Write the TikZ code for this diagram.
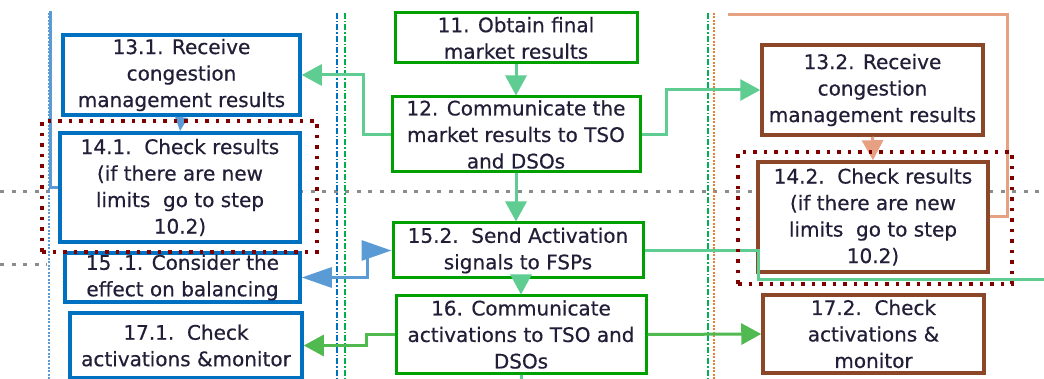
\documentclass[tikz,border=0pt]{standalone}
\usepackage{fontspec}
\setmainfont{DejaVu Sans}
\newfontfamily\boxfont{DejaVu Sans}[FakeBold=0.5]
\usetikzlibrary{arrows.meta}
\definecolor{boxblue}{RGB}{0,112,192}
\definecolor{boxgreen}{RGB}{0,160,0}
\definecolor{boxbrown}{RGB}{140,70,40}
\definecolor{frred}{RGB}{128,0,0}
\definecolor{lgreen}{RGB}{95,205,145}
\definecolor{dgreen}{RGB}{80,185,80}
\definecolor{lblue}{RGB}{91,155,213}
\definecolor{salmon}{RGB}{230,160,130}
\definecolor{txt}{RGB}{35,30,55}
\definecolor{lanegreen}{RGB}{0,176,80}
\definecolor{laneorange}{RGB}{237,125,49}
\definecolor{gdot}{RGB}{140,140,140}
\begin{document}
\begin{tikzpicture}[x=1pt,y=-1pt,
  box/.style={draw, fill=white, line width=3.5pt, inner sep=0pt, align=center, text=txt,
    font={\boxfont\fontsize{20}{26.5}\selectfont}},
  bbox/.style={box, draw=boxblue},
  gbox/.style={box, draw=boxgreen, line width=3pt},
  rbox/.style={box, draw=boxbrown},
  frame/.style={draw=frred, line width=3.5pt, dash pattern=on 3.5pt off 7pt, inner sep=0pt},
  conn/.style={line width=3pt},
  lg/.style={conn, draw=lgreen},
  dg/.style={conn, draw=dgreen},
  lb/.style={conn, draw=lblue},
  sal/.style={conn, draw=salmon},
  tip/.style={-{Triangle[length=20pt,width=21pt]}},
  bigtip/.style={{Triangle[length=30pt,width=20pt]}-{Triangle[length=30pt,width=20pt]}},
  lane/.style={line width=1.5pt},
  gline/.style={draw=gdot, line width=3pt, dash pattern=on 4pt off 7.5pt}
]
\useasboundingbox (0,0) rectangle (1044,379);
\fill[white] (0,0) rectangle (1044,379);

% grey dotted horizontal lines
\draw[gline] (0,192) -- (1044,192);
\draw[gline] (0,265) -- (47,265);

% lane lines
\draw[lane, draw=lblue, line width=2pt, dash pattern=on 2pt off 1.5pt] (49,13) -- (49,379);
\draw[lane, draw=boxblue, dash pattern=on 6pt off 2pt on 1.5pt off 2pt] (337,13) -- (337,379);
\draw[lane, draw=lanegreen, dash pattern=on 6pt off 2pt on 1.5pt off 2pt] (345,13) -- (345,379);
\draw[lane, draw=lanegreen, dash pattern=on 6pt off 2pt on 1.5pt off 2pt] (708,13) -- (708,379);
\draw[lane, draw=laneorange, dash pattern=on 2pt off 1.5pt] (714,13) -- (714,379);

% boxes
\node[bbox, minimum width=237pt, minimum height=80pt] (n131) at (181.5,75) {13.1. Receive\\congestion\\management results};
\node[bbox, minimum width=240pt, minimum height=109pt] (n141) at (180,187.5) {14.1.\ \ Check results\\(if there are new\\limits\ \ go to step\\10.2)};
\node[bbox, minimum width=235pt, minimum height=49pt] (n151) at (182.5,277.5) {15 .1. Consider the\\effect on balancing};
\node[bbox, minimum width=232pt, minimum height=65pt] (n171) at (186,345.5) {17.1.\ \ Check\\activations \&monitor};

\node[gbox, minimum width=242pt, minimum height=50pt] (n11) at (516,38) {11. Obtain final\\market results};
\node[gbox, minimum width=248pt, minimum height=75pt] (n12) at (516,134.5) {12. Communicate the\\market results to TSO\\and DSOs};
\node[gbox, minimum width=250pt, minimum height=55pt] (n152) at (518,250.5) {15.2.\ \ Send Activation\\signals to FSPs};
\node[gbox, minimum width=250pt, minimum height=77pt] (n16) at (521,334.5) {16. Communicate\\activations to TSO and\\DSOs};

\node[rbox, minimum width=221pt, minimum height=90pt] (n132) at (872.5,90) {13.2. Receive\\congestion\\management results};
\node[rbox, minimum width=230pt, minimum height=110pt] (n142) at (873,217) {14.2.\ \ Check results\\(if there are new\\limits\ \ go to step\\10.2)};
\node[rbox, minimum width=221pt, minimum height=78pt] (n172) at (873.5,334) {17.2.\ \ Check\\activations \&\\monitor};

% free ends
\coordinate (top141) at (52,13);
\coordinate (top142) at (728,15);
\coordinate (right152) at (1044,280);
\coordinate (bot16) at (521,379);

% connectors
\draw[lg, tip] (n11.south) -- (n12.north);
\draw[lg, tip] (n12.west) -- ++(-27,0) |- (n131.east);
\draw[lg, tip] (n12.east) -- ++(25,0) |- (n132.west);
\draw[lg, tip] (n12.south) -- (n12.south |- n152.north);
\draw[lb, -{Triangle[length=14pt,width=12pt]}] (n131.south) -- (n141.north);
\draw[sal, tip] (n132.south) -- (n142.north);
\draw[sal] (n142.east) -- ++(18,0) |- (top142);
\draw[lb] (n141.west) -- ++(-8,0) |- (top141);
\draw[lb, bigtip] (n151.east) -- ++(66,0) |- (n152.west);
\draw[lg] (n152.east) -- ++(114,0) |- (right152);
\draw[lg, tip] (n16.north |- n152.south) -- (n16.north);
\draw[dg, tip] (n16.west) -- ++(-28,0) |- (n171.east);
\draw[dg, tip] (n16.east) -- (n172.west);
\draw[lg] (n16.south) -- (bot16);

% red dotted frames
\node[frame, minimum width=275pt, minimum height=131pt] (fr1) at (179.5,186.5) {};
\node[frame, minimum width=274pt, minimum height=132pt] (fr2) at (875,218) {};
\end{tikzpicture}
\end{document}
